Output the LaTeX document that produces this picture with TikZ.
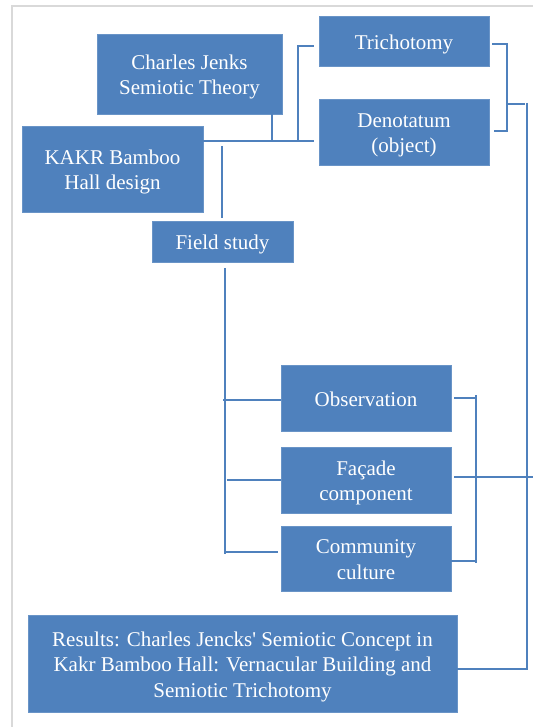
\documentclass[tikz,border=0pt]{standalone}
\usepackage{fontspec}
\setmainfont{Liberation Serif}
\definecolor{boxblue}{HTML}{4F81BD}
\definecolor{framegray}{HTML}{D9D9D9}
% centred lines of box text, set a little below the box centre
\newcommand\boxtext[1]{\raisebox{-3pt}[\height][\depth]{\begin{tabular}{@{}c@{}}#1\end{tabular}}}
\begin{document}
\begin{tikzpicture}[x=1pt,y=-1pt,
  box/.style={fill=boxblue, draw=boxblue!85!white, line width=0.6pt, text=white,
    inner sep=0pt, font=\fontsize{21}{25.5}\selectfont},
  conn/.style={draw=boxblue, line width=1.6pt}]
\useasboundingbox (0,0) rectangle (533,727);
% outer frame
\draw[framegray, line width=1.6pt] (12,727) -- (12,6) -- (533,6);

% boxes
\node[box, minimum width=185pt, minimum height=80pt] (charles) at (189.5,74) {\boxtext{Charles Jenks\\Semiotic Theory}};
\node[box, minimum width=170pt, minimum height=50pt] (tri) at (404,41) {\boxtext{Trichotomy}};
\node[box, minimum width=170pt, minimum height=66pt] (deno) at (404,132) {\boxtext{Denotatum\\(object)}};
\node[box, minimum width=181pt, minimum height=86pt] (kakr) at (112.5,169) {\boxtext{KAKR Bamboo\\Hall design}};
\node[box, minimum width=141pt, minimum height=41pt] (field) at (222.5,241.5) {\boxtext{Field study}};
\node[box, minimum width=170pt, minimum height=66pt] (obs) at (366,398) {\boxtext{Observation}};
\node[box, minimum width=170pt, minimum height=66pt] (fac) at (366,480) {\boxtext{Façade\\component}};
\node[box, minimum width=170pt, minimum height=65pt] (com) at (366,558.5) {\boxtext{Community\\culture}};
\node[box, minimum width=429pt, minimum height=97pt] (res) at (242.5,663.5) {\boxtext{Results: Charles Jencks\textquotesingle{} Semiotic Concept in\\Kakr Bamboo Hall: Vernacular Building and\\Semiotic Trichotomy}};

% junction points
\coordinate (row) at (0,141);
\coordinate (cj) at (272,141);
\coordinate (tb) at (298,141);
\coordinate (fk) at (222,146);
\coordinate (fd) at (225,554);
\coordinate (tr) at (507,104);
\coordinate (bus) at (527,104);
\coordinate (rb) at (476,398);

% top group
\draw[conn] (kakr.east |- row) -- ([xshift=-5pt]deno.west |- row);
\draw[conn] (cj |- charles.south) -- (cj);
\draw[conn] (tb) -- (tb |- 0,46) -- ([xshift=-5pt]tri.west |- 0,46);
\draw[conn] (fk) -- ([yshift=3pt]fk |- field.north);

% trichotomy / denotatum bracket into the long bus
\draw[conn] ([xshift=3pt]tri.east |- 0,44) -- (tr |- 0,44) -- (tr |- 0,131) -- ([xshift=5pt]deno.east |- 0,131);
\draw[conn] (tr) -- ([xshift=-2pt]bus);
\draw[conn] ([yshift=1pt]bus) -- (bus |- 0,669) -- (res.east |- 0,669);

% field study branches
\draw[conn] ([yshift=-6pt]fd |- field.south) -- (fd);
\draw[conn] ([xshift=-2pt]fd |- 0,400) -- (obs.west |- 0,400);
\draw[conn] ([xshift=2pt]fd |- fac.west) -- (fac.west);
\draw[conn] (fd |- 0,552) -- ([xshift=-3pt]com.west |- 0,552);

% right-hand bracket of the three findings
\draw[conn] ([xshift=3pt]obs.east |- rb) -- (rb) ;
\draw[conn] (rb |- 0,395) -- (rb |- 0,563);
\draw[conn] (com.east |- 0,561) -- (rb |- 0,561);
\draw[conn] ([xshift=3pt]fac.east |- 0,477) -- (533,477);
\end{tikzpicture}
\end{document}
